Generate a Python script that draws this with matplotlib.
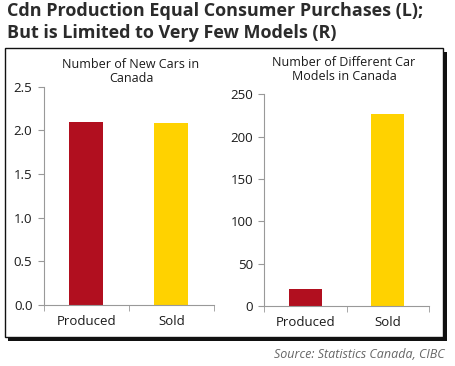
import matplotlib.pyplot as plt
from matplotlib.patches import Rectangle

categories = ['Produced', 'Sold']
new_cars = [2.09, 2.08]          # millions
car_models = [20, 227]
bar_colors = ['#B10F1F', '#FFD200']

W, H = 455, 366
fig = plt.figure(figsize=(W / 100, H / 100), dpi=100)
plt.rcParams['font.family'] = ['Open Sans', 'DejaVu Sans']


def px_axes(x0, y0, x1, y1):
    # pixel box (left, top, right, bottom) -> figure coords
    return fig.add_axes([x0 / W, 1 - y1 / H, (x1 - x0) / W, (y1 - y0) / H])


# frame with drop shadow
fig.patches.append(Rectangle((8 / W, 1 - 341 / H), 439 / W, 289 / H,
                             transform=fig.transFigure, facecolor='#111111',
                             edgecolor='none', zorder=0))
fig.patches.append(Rectangle((5 / W, 1 - 337 / H), 438 / W, 289 / H,
                             transform=fig.transFigure, facecolor='white',
                             edgecolor='#111111', linewidth=1, zorder=1))

fig.text(7 / W, 1 - 22 / H, 'Cdn Production Equal Consumer Purchases (L);\nBut is Limited to Very Few Models (R)',
         fontsize=13, fontweight='bold', color='#2b2b2b', va='center', ha='left',
         linespacing=1.3)

fig.text(445 / W, 1 - 355 / H, 'Source: Statistics Canada, CIBC', fontsize=9,
         style='italic', color='#666666', ha='right', va='center')

ax1 = px_axes(43.5, 86.5, 214, 305)
ax2 = px_axes(264.3, 94.3, 429, 306)

for ax, vals, top, step, fmt in [(ax1, new_cars, 2.5, 0.5, '{:.1f}'),
                                 (ax2, car_models, 250, 50, '{:.0f}')]:
    ax.set_zorder(2)
    ax.bar(range(len(categories)), vals, width=0.4, color=bar_colors)
    ax.set_xlim(-0.5, 1.5)
    ax.set_ylim(0, top)
    ticks = [i * step for i in range(6)]
    ax.set_yticks(ticks)
    ax.set_yticklabels([fmt.format(t) for t in ticks])
    ax.set_xticks(range(len(categories)))
    ax.set_xticklabels(categories)
    ax.set_xticks([-0.5, 0.5, 1.5], minor=True)
    ax.tick_params(axis='x', which='major', length=0, pad=7, labelsize=9.5, labelcolor='#1a1a1a')
    ax.tick_params(axis='x', which='minor', length=4, color='#999999', direction='out')
    ax.tick_params(axis='y', length=4, color='#999999', labelsize=9.5, labelcolor='#1a1a1a', pad=4)
    for s in ['top', 'right']:
        ax.spines[s].set_visible(False)
    for s in ['left', 'bottom']:
        ax.spines[s].set_color('#999999')
        ax.spines[s].set_linewidth(0.8)
    ax.patch.set_alpha(0)

fig.text(131 / W, 1 - 72 / H, 'Number of New Cars in\nCanada', fontsize=9,
         color='#1a1a1a', ha='center', va='center', linespacing=1.1, zorder=3)
fig.text(344 / W, 1 - 70 / H, 'Number of Different Car\nModels in Canada', fontsize=9,
         color='#1a1a1a', ha='center', va='center', linespacing=1.1, zorder=3)

fig.savefig('out.png', dpi=100)
